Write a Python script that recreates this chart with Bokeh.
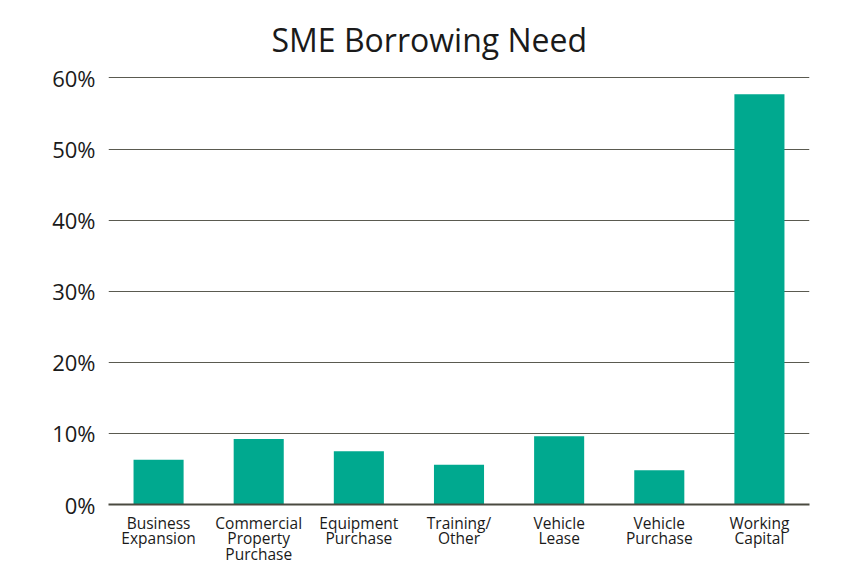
from bokeh.plotting import figure
from bokeh.models import Range1d, FactorRange, FixedTicker
from bokeh.embed import file_html
from bokeh.resources import INLINE

categories = ["Business\nExpansion", "Commercial\nProperty\nPurchase", "Equipment\nPurchase",
              "Training/\nOther", "Vehicle\nLease", "Vehicle\nPurchase", "Working\nCapital"]
values = [6.3, 9.2, 7.5, 5.6, 9.6, 4.8, 57.7]
y_ticks = [0, 10, 20, 30, 40, 50, 60]
title_text = "SME Borrowing Need"

FONT = "Open Sans"

p = figure(width=844, height=568, x_range=FactorRange(*categories, range_padding=0),
           y_range=Range1d(0, 60.2), output_backend="svg", toolbar_location=None,
           title=title_text)
p.min_border_left = 108
p.min_border_right = 35
p.min_border_top = 76
p.min_border_bottom = 60
p.outline_line_color = None

p.title.align = "left"
p.title.offset = 163
p.title.standoff = 31
p.title.text_font = FONT
p.title.text_font_size = "32px"
p.title.text_font_style = "normal"
p.title.text_color = "#1a1a1a"

p.vbar(x=categories, top=values, width=0.5, color="#00A98F", line_color=None)

p.xgrid.grid_line_color = None
p.ygrid.grid_line_color = "#5a5a50"
p.ygrid.grid_line_width = 1
p.ygrid.ticker = FixedTicker(ticks=y_ticks)

p.yaxis.ticker = FixedTicker(ticks=y_ticks)
p.yaxis.major_label_overrides = {t: f"{t}%" for t in y_ticks}
p.yaxis.axis_line_color = None
p.yaxis.major_tick_line_color = None
p.yaxis.minor_tick_line_color = None
p.yaxis.major_label_text_font = FONT
p.yaxis.major_label_text_font_size = "22px"
p.yaxis.major_label_text_color = "#1a1a1a"
p.yaxis.major_label_standoff = 7

p.xaxis.axis_line_color = "#4a4a40"
p.xaxis.axis_line_width = 2
p.xaxis.major_tick_line_color = None
p.xaxis.minor_tick_line_color = None
p.xaxis.major_label_text_font = FONT
p.xaxis.major_label_text_font_size = "15.5px"
p.xaxis.major_label_text_color = "#1a1a1a"
p.xaxis.major_label_text_line_height = 0.72
p.xaxis.major_label_standoff = 1

open("out.html", "w").write(file_html(p, INLINE))
